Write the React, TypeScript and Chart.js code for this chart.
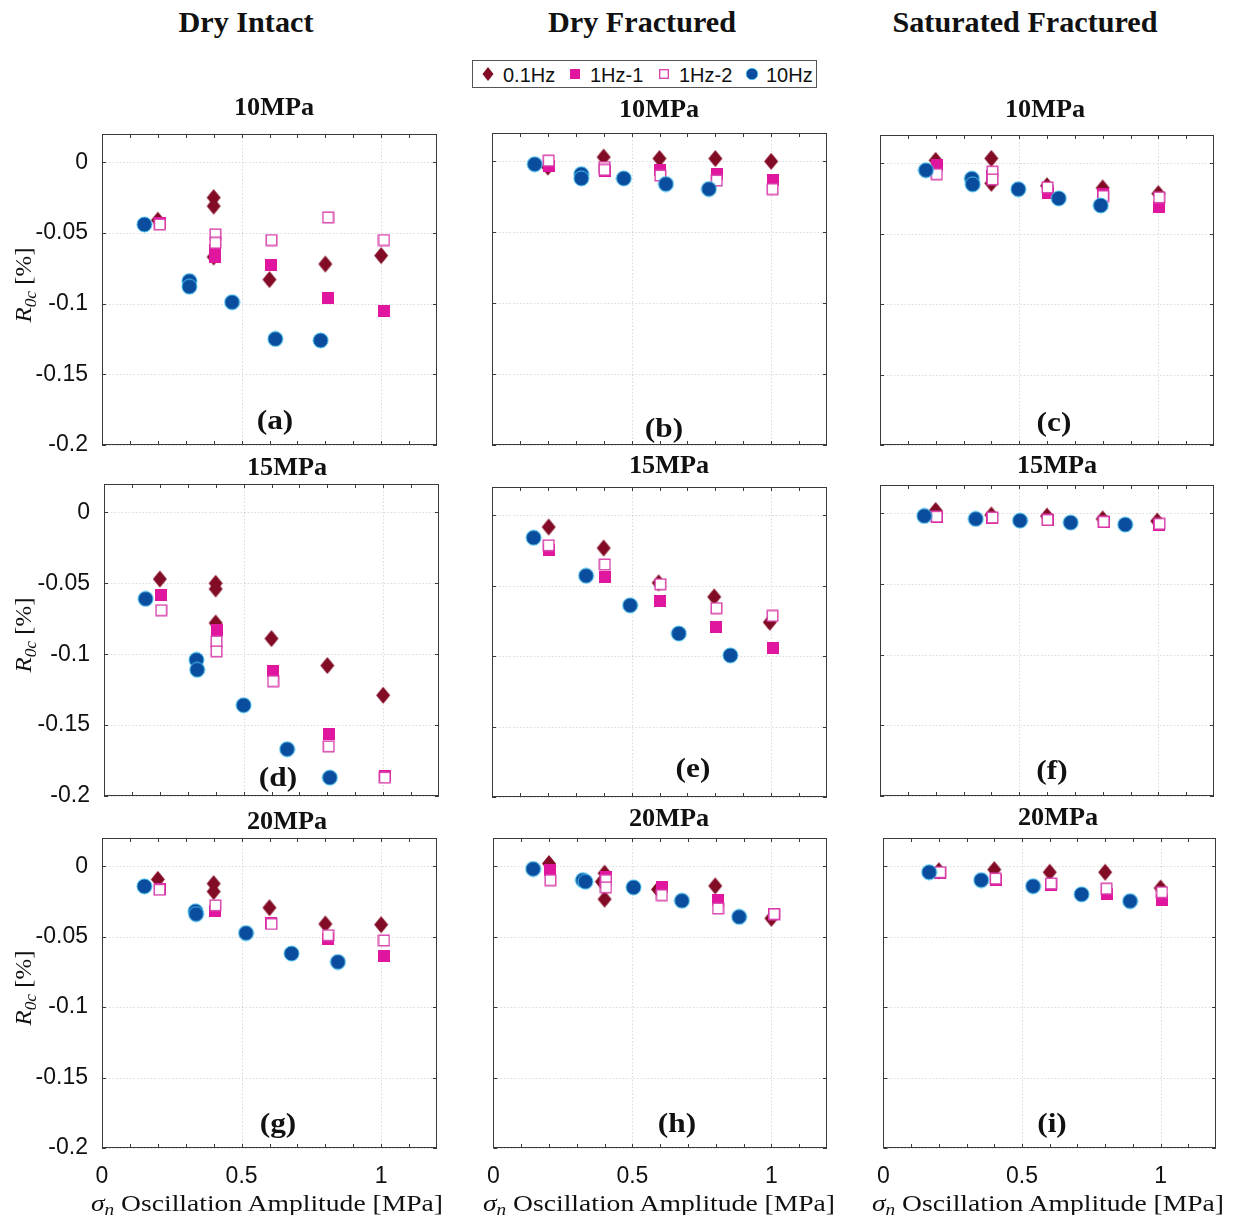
import React, { useEffect, useRef } from 'react';
import { Chart, registerables } from 'chart.js';

Chart.register(...registerables);

type Pt = [number, number];

// ---------- labels ----------
const COLUMN_TITLES = ['Dry Intact', 'Dry Fractured', 'Saturated Fractured'];
const ROW_TITLES = ['10MPa', '15MPa', '20MPa'];
const PANEL_LETTERS = ['(a)', '(b)', '(c)', '(d)', '(e)', '(f)', '(g)', '(h)', '(i)'];
const SERIES_NAMES = ['0.1Hz', '1Hz-1', '1Hz-2', '10Hz'];

// ---------- axes ----------
const X_MIN = 0;
const X_MAX = 1.2;
const Y_MIN = -0.2;
const Y_MAX = 0.02;
const X_TICKS = [0, 0.5, 1];
const X_TICK_LABELS = ['0', '0.5', '1'];
const X_MINOR_TICKS = [0.1, 0.2, 0.3, 0.4, 0.5, 0.6, 0.7, 0.8, 0.9, 1.0, 1.1];
const Y_TICKS = [0, -0.05, -0.1, -0.15, -0.2];
const Y_TICK_LABELS = ['0', '-0.05', '-0.1', '-0.15', '-0.2'];

// ---------- data: [sigma_n amplitude (MPa), R0c (%)] ----------
// (a) Dry Intact, 10 MPa
const a_01Hz: Pt[] = [[0.2, -0.041], [0.4, -0.025], [0.4, -0.031], [0.4, -0.067], [0.6, -0.083], [0.8, -0.072], [1.0, -0.066]];
const a_1Hz1: Pt[] = [[0.207, -0.043], [0.406, -0.062], [0.406, -0.067], [0.607, -0.073], [0.81, -0.096], [1.01, -0.105]];
const a_1Hz2: Pt[] = [[0.207, -0.044], [0.406, -0.051], [0.406, -0.057], [0.607, -0.055], [0.81, -0.039], [1.01, -0.055]];
const a_10Hz: Pt[] = [[0.152, -0.044], [0.313, -0.084], [0.313, -0.088], [0.466, -0.099], [0.621, -0.125], [0.783, -0.126]];

// (b) Dry Fractured, 10 MPa
const b_01Hz: Pt[] = [[0.2, -0.004], [0.4, 0.003], [0.6, 0.002], [0.8, 0.002], [1.0, 0.0]];
const b_1Hz1: Pt[] = [[0.203, -0.003], [0.403, -0.007], [0.603, -0.006], [0.805, -0.009], [1.005, -0.013]];
const b_1Hz2: Pt[] = [[0.203, 0.0005], [0.403, -0.004], [0.403, -0.006], [0.603, -0.01], [0.805, -0.0135], [1.005, -0.0195]];
const b_10Hz: Pt[] = [[0.153, -0.002], [0.32, -0.009], [0.32, -0.012], [0.472, -0.012], [0.623, -0.016], [0.777, -0.0195]];

// (c) Saturated Fractured, 10 MPa
const c_01Hz: Pt[] = [[0.2, 0.002], [0.4, 0.0034], [0.4, -0.0143], [0.6, -0.016], [0.8, -0.0176], [1.0, -0.0216]];
const c_1Hz1: Pt[] = [[0.204, -0.001], [0.404, -0.009], [0.602, -0.021], [0.802, -0.022], [1.003, -0.031]];
const c_1Hz2: Pt[] = [[0.204, -0.0078], [0.404, -0.006], [0.404, -0.0115], [0.602, -0.0172], [0.802, -0.0233], [1.003, -0.0243]];
const c_10Hz: Pt[] = [[0.165, -0.005], [0.33, -0.011], [0.333, -0.015], [0.497, -0.0185], [0.642, -0.025], [0.793, -0.03]];

// (d) Dry Intact, 15 MPa
const d_01Hz: Pt[] = [[0.2, -0.047], [0.4, -0.05], [0.4, -0.054], [0.4, -0.078], [0.6, -0.089], [0.8, -0.108], [1.0, -0.129]];
const d_1Hz1: Pt[] = [[0.205, -0.058], [0.403, -0.083], [0.606, -0.112], [0.805, -0.156], [1.006, -0.186]];
const d_1Hz2: Pt[] = [[0.205, -0.069], [0.403, -0.091], [0.403, -0.098], [0.606, -0.119], [0.805, -0.165], [1.006, -0.187]];
const d_10Hz: Pt[] = [[0.149, -0.061], [0.331, -0.104], [0.334, -0.111], [0.5, -0.136], [0.656, -0.167], [0.809, -0.187]];

// (e) Dry Fractured, 15 MPa
const e_01Hz: Pt[] = [[0.203, -0.0084], [0.4, -0.0233], [0.597, -0.048], [0.796, -0.058], [0.995, -0.076]];
const e_1Hz1: Pt[] = [[0.203, -0.0245], [0.404, -0.044], [0.603, -0.061], [0.804, -0.079], [1.005, -0.094]];
const e_1Hz2: Pt[] = [[0.203, -0.0214], [0.404, -0.035], [0.603, -0.049], [0.804, -0.066], [1.005, -0.0715]];
const e_10Hz: Pt[] = [[0.149, -0.016], [0.337, -0.043], [0.495, -0.064], [0.669, -0.084], [0.854, -0.0995]];

// (f) Saturated Fractured, 15 MPa
const f_01Hz: Pt[] = [[0.2, 0.002], [0.4, -0.0012], [0.6, -0.002], [0.8, -0.004], [0.996, -0.0055]];
const f_1Hz1: Pt[] = [[0.204, -0.0028], [0.404, -0.0035], [0.602, -0.005], [0.804, -0.0065], [1.004, -0.008]];
const f_1Hz2: Pt[] = [[0.204, -0.0024], [0.404, -0.003], [0.602, -0.0047], [0.804, -0.006], [1.004, -0.0075]];
const f_10Hz: Pt[] = [[0.159, -0.0019], [0.344, -0.004], [0.503, -0.0052], [0.685, -0.0066], [0.881, -0.008]];

// (g) Dry Intact, 20 MPa
const g_01Hz: Pt[] = [[0.2, -0.0094], [0.4, -0.0124], [0.4, -0.018], [0.6, -0.0295], [0.8, -0.041], [1.0, -0.0415]];
const g_1Hz1: Pt[] = [[0.206, -0.016], [0.406, -0.0318], [0.607, -0.04], [0.81, -0.0515], [1.01, -0.064]];
const g_1Hz2: Pt[] = [[0.206, -0.0167], [0.406, -0.0278], [0.607, -0.041], [0.81, -0.049], [1.01, -0.0527]];
const g_10Hz: Pt[] = [[0.152, -0.0143], [0.335, -0.032], [0.337, -0.034], [0.516, -0.0475], [0.679, -0.062], [0.845, -0.068]];

// (h) Dry Fractured, 20 MPa
const h_01Hz: Pt[] = [[0.2, 0.0019], [0.4, -0.005], [0.39, -0.011], [0.4, -0.0234], [0.592, -0.0165], [0.798, -0.014], [1.0, -0.037]];
const h_1Hz1: Pt[] = [[0.205, -0.0028], [0.405, -0.008], [0.606, -0.0146], [0.808, -0.024], [1.01, -0.034]];
const h_1Hz2: Pt[] = [[0.205, -0.0099], [0.405, -0.0099], [0.405, -0.015], [0.606, -0.0205], [0.808, -0.03], [1.01, -0.034]];
const h_10Hz: Pt[] = [[0.143, -0.002], [0.322, -0.0099], [0.331, -0.011], [0.504, -0.015], [0.678, -0.0245], [0.884, -0.036]];

// (i) Saturated Fractured, 20 MPa
const i_01Hz: Pt[] = [[0.2, -0.0032], [0.4, -0.0024], [0.6, -0.0043], [0.8, -0.0043], [1.0, -0.0155]];
const i_1Hz1: Pt[] = [[0.205, -0.005], [0.405, -0.0095], [0.605, -0.0135], [0.805, -0.02], [1.005, -0.0237]];
const i_1Hz2: Pt[] = [[0.205, -0.0043], [0.405, -0.0088], [0.605, -0.0123], [0.805, -0.016], [1.005, -0.0185]];
const i_10Hz: Pt[] = [[0.165, -0.0043], [0.353, -0.0099], [0.54, -0.0142], [0.715, -0.02], [0.89, -0.0248]];

// series per panel, in SERIES_NAMES order, row by row
const PANEL_SERIES: Pt[][][] = [
  [a_01Hz, a_1Hz1, a_1Hz2, a_10Hz],
  [b_01Hz, b_1Hz1, b_1Hz2, b_10Hz],
  [c_01Hz, c_1Hz1, c_1Hz2, c_10Hz],
  [d_01Hz, d_1Hz1, d_1Hz2, d_10Hz],
  [e_01Hz, e_1Hz1, e_1Hz2, e_10Hz],
  [f_01Hz, f_1Hz1, f_1Hz2, f_10Hz],
  [g_01Hz, g_1Hz1, g_1Hz2, g_10Hz],
  [h_01Hz, h_1Hz1, h_1Hz2, h_10Hz],
  [i_01Hz, i_1Hz1, i_1Hz2, i_10Hz],
];

// ---------- layout (page pixels) ----------
const PLOT_BOXES = [
  { left: 102, top: 134, width: 335, height: 311 },
  { left: 492, top: 133, width: 335, height: 312 },
  { left: 880, top: 135, width: 334, height: 310 },
  { left: 104, top: 484, width: 335, height: 312 },
  { left: 492, top: 487, width: 335, height: 310 },
  { left: 880, top: 485, width: 334, height: 311 },
  { left: 102, top: 838, width: 335, height: 310 },
  { left: 492, top: 838, width: 335, height: 310 },
  { left: 882, top: 838, width: 334, height: 310 },
];
const COLUMN_TITLE_X = [246, 642, 1025];
const ROW_TITLE_POS = [
  [[274, 115], [659, 117], [1045, 117]],
  [[287, 475], [669, 473], [1057, 473]],
  [[287, 829], [669, 826], [1058, 825]],
];
const LETTER_POS = [
  [275, 430], [664, 438], [1054, 432],
  [278, 787], [693, 778], [1052, 780],
  [278, 1133], [677, 1133], [1052, 1133],
];
const X_TITLE_X = [267, 659, 1048];
const Y_TITLE_Y = [285, 635, 988];

// ---------- styles ----------
const DIAMOND_COLOR = '#820B25';
const SQUARE_COLOR = '#E0169E';
const OPEN_SQUARE_COLOR = '#D83EAA';
const CIRCLE_COLOR = '#0A4D9E';
const CIRCLE_EDGE = '#4CC6F0';
const AXIS_COLOR = '#3a3a3a';
const TEXT_COLOR = '#111';
const SERIF = '"Liberation Serif", "Times New Roman", serif';
const SANS = '"Liberation Sans", Arial, sans-serif';

function sprite(w: number, h: number, draw: (g: CanvasRenderingContext2D) => void) {
  const c = document.createElement('canvas');
  c.width = w;
  c.height = h;
  draw(c.getContext('2d') as CanvasRenderingContext2D);
  return c;
}

let markerCache: HTMLCanvasElement[] | null = null;
function markers() {
  if (markerCache) return markerCache;
  const diamond = sprite(16, 19, (g) => {
    g.beginPath();
    g.moveTo(8, 1);
    g.lineTo(15, 9.5);
    g.lineTo(8, 18);
    g.lineTo(1, 9.5);
    g.closePath();
    g.fillStyle = DIAMOND_COLOR;
    g.fill();
  });
  const square = sprite(12, 12, (g) => {
    g.fillStyle = SQUARE_COLOR;
    g.fillRect(0, 0, 12, 12);
  });
  const openSquare = sprite(13, 13, (g) => {
    g.fillStyle = '#fff';
    g.fillRect(1, 1, 11, 11);
    g.strokeStyle = OPEN_SQUARE_COLOR;
    g.lineWidth = 1.4;
    g.strokeRect(1.2, 1.2, 10.6, 10.6);
  });
  const circle = sprite(17, 17, (g) => {
    g.beginPath();
    g.arc(8.5, 8.5, 7.5, 0, Math.PI * 2);
    g.fillStyle = CIRCLE_COLOR;
    g.fill();
    g.lineWidth = 1;
    g.strokeStyle = CIRCLE_EDGE;
    g.stroke();
  });
  markerCache = [diamond, square, openSquare, circle];
  return markerCache;
}

// MATLAB-style frame: dotted grid, boxed axes, inward ticks on all sides
const axesFrame = {
  id: 'axesFrame',
  beforeDatasetsDraw(chart: any) {
    const { ctx, chartArea } = chart;
    const { left, right, top, bottom } = chartArea;
    const xs = chart.scales.x;
    const ys = chart.scales.y;
    const line = (x1: number, y1: number, x2: number, y2: number) => {
      ctx.beginPath();
      ctx.moveTo(x1, y1);
      ctx.lineTo(x2, y2);
      ctx.stroke();
    };
    ctx.save();
    ctx.lineWidth = 1;
    ctx.strokeStyle = 'rgba(0,0,0,0.14)';
    ctx.setLineDash([1.5, 2]);
    X_TICKS.forEach((v) => {
      const px = Math.round(xs.getPixelForValue(v)) + 0.5;
      line(px, top, px, bottom);
    });
    Y_TICKS.forEach((v) => {
      const py = Math.round(ys.getPixelForValue(v)) + 0.5;
      line(left, py, right, py);
    });
    ctx.setLineDash([]);
    ctx.strokeStyle = AXIS_COLOR;
    X_MINOR_TICKS.forEach((v) => {
      const px = Math.round(xs.getPixelForValue(v)) + 0.5;
      line(px, bottom, px, bottom - 4);
      line(px, top, px, top + 4);
    });
    Y_TICKS.forEach((v) => {
      const py = Math.round(ys.getPixelForValue(v)) + 0.5;
      line(left, py, left + 4, py);
      line(right, py, right - 4, py);
    });
    ctx.strokeRect(Math.round(left) + 0.5, Math.round(top) + 0.5, Math.round(right - left) - 1, Math.round(bottom - top) - 1);
    ctx.restore();
  },
};

type PanelProps = { index: number };

function Panel({ index }: PanelProps) {
  const ref = useRef<HTMLCanvasElement>(null);
  const box = PLOT_BOXES[index];
  const col = index % 3;
  const row = Math.floor(index / 3);
  const showY = col === 0;
  const showX = row === 2;
  const padL = showY ? 100 : 12;
  const padR = 16;
  const padT = 30;
  const padB = showX ? 56 : 30;
  const cw = box.width + padL + padR;
  const ch = box.height + padT + padB;

  useEffect(() => {
    const [diamond, square, openSquare, circle] = markers();
    const styles = [diamond, square, openSquare, circle];
    const drawOrder = [3, 2, 1, 0];
    const series = PANEL_SERIES[index];
    const chart = new Chart(ref.current as HTMLCanvasElement, {
      type: 'scatter',
      data: {
        datasets: series.map((pts, s) => ({
          label: SERIES_NAMES[s],
          data: pts.map(([x, y]) => ({ x, y })),
          pointStyle: styles[s] as any,
          pointRadius: 7,
          pointHoverRadius: 7,
          showLine: false,
          order: drawOrder[s],
        })),
      },
      options: {
        responsive: false,
        animation: false,
        events: [],
        layout: { padding: { top: padT, right: padR, left: 0, bottom: 0 } },
        plugins: { legend: { display: false }, tooltip: { enabled: false }, title: { display: false } },
        scales: {
          x: {
            type: 'linear',
            min: X_MIN,
            max: X_MAX,
            grid: { display: false },
            border: { display: false },
            afterBuildTicks: (axis: any) => {
              axis.ticks = X_TICKS.map((value) => ({ value }));
            },
            afterFit: (axis: any) => {
              axis.height = padB;
            },
            ticks: {
              display: showX,
              padding: 7,
              color: TEXT_COLOR,
              font: { family: SANS, size: 23 },
              maxRotation: 0,
              callback: (_v: any, i: number) => X_TICK_LABELS[i],
            },
          },
          y: {
            type: 'linear',
            min: Y_MIN,
            max: Y_MAX,
            grid: { display: false },
            border: { display: false },
            afterBuildTicks: (axis: any) => {
              axis.ticks = Y_TICKS.map((value) => ({ value }));
            },
            afterFit: (axis: any) => {
              axis.width = padL;
            },
            ticks: {
              display: showY,
              padding: 6,
              color: TEXT_COLOR,
              font: { family: SANS, size: 23 },
              callback: (_v: any, i: number) => Y_TICK_LABELS[i],
            },
          },
        },
      },
      plugins: [axesFrame],
    } as any);
    return () => chart.destroy();
  }, [index]);

  return (
    <canvas
      ref={ref}
      width={cw}
      height={ch}
      style={{ position: 'absolute', left: box.left - padL, top: box.top - padT, width: cw, height: ch }}
    />
  );
}

type TextProps = {
  x: number;
  y: number;
  size: number;
  family: string;
  bold?: boolean;
  stretch?: number;
  children: React.ReactNode;
};

// text centred on x with its baseline on y
function Text({ x, y, size, family, bold, stretch = 1, children }: TextProps) {
  return (
    <div
      style={{
        position: 'absolute',
        left: x,
        top: y - 0.84 * size,
        fontFamily: family,
        fontSize: size,
        lineHeight: `${size}px`,
        fontWeight: bold ? 700 : 400,
        color: TEXT_COLOR,
        whiteSpace: 'nowrap',
        transform: `translateX(-50%) scaleX(${stretch})`,
        transformOrigin: 'center',
        zIndex: 2,
      }}
    >
      {children}
    </div>
  );
}

const subStyle: React.CSSProperties = { fontSize: '0.7em', verticalAlign: 'baseline', position: 'relative', top: '0.28em' };

function YTitle({ cy }: { cy: number }) {
  return (
    <div
      style={{
        position: 'absolute',
        left: 24,
        top: cy,
        fontFamily: SERIF,
        fontSize: 23,
        lineHeight: '23px',
        color: TEXT_COLOR,
        whiteSpace: 'nowrap',
        transform: 'translate(-50%, -50%) rotate(-90deg) scaleX(1.08)',
        transformOrigin: 'center',
        zIndex: 2,
      }}
    >
      <i>R</i>
      <i style={subStyle}>0c</i>
      {' [%]'}
    </div>
  );
}

function XTitle({ cx }: { cx: number }) {
  return (
    <Text x={cx} y={1211} size={23} family={SERIF} stretch={1.2}>
      <i>σ</i>
      <i style={subStyle}>n</i>
      {' Oscillation Amplitude [MPa]'}
    </Text>
  );
}

function LegendMarker({ kind }: { kind: number }) {
  if (kind === 0)
    return (
      <svg width="12" height="15" viewBox="0 0 12 15">
        <path d="M6 0.5 L11.5 7.5 L6 14.5 L0.5 7.5 Z" fill={DIAMOND_COLOR} />
      </svg>
    );
  if (kind === 1)
    return (
      <svg width="10" height="10" viewBox="0 0 10 10">
        <rect x="0" y="0" width="10" height="10" fill={SQUARE_COLOR} />
      </svg>
    );
  if (kind === 2)
    return (
      <svg width="10" height="10" viewBox="0 0 10 10">
        <rect x="0.7" y="0.7" width="8.6" height="8.6" fill="#fff" stroke={OPEN_SQUARE_COLOR} strokeWidth="1.3" />
      </svg>
    );
  return (
    <svg width="13" height="13" viewBox="0 0 13 13">
      <circle cx="6.5" cy="6.5" r="5.8" fill={CIRCLE_COLOR} stroke={CIRCLE_EDGE} strokeWidth="0.8" />
    </svg>
  );
}

const LEGEND_MARKER_X = [15, 102, 191, 279];
const LEGEND_TEXT_X = [30, 117, 206, 293];

function Legend() {
  return (
    <div
      style={{
        position: 'absolute',
        left: 472,
        top: 60,
        width: 345,
        height: 28,
        boxSizing: 'border-box',
        border: '1px solid #555',
        background: '#fff',
        zIndex: 3,
      }}
    >
      {SERIES_NAMES.map((name, k) => (
        <React.Fragment key={name}>
          <div
            style={{
              position: 'absolute',
              left: LEGEND_MARKER_X[k],
              top: 13,
              transform: 'translate(-50%, -50%)',
              lineHeight: 0,
            }}
          >
            <LegendMarker kind={k} />
          </div>
          <div
            style={{
              position: 'absolute',
              left: LEGEND_TEXT_X[k],
              top: 21 - 0.85 * 20,
              fontFamily: SANS,
              fontSize: 20,
              lineHeight: '20px',
              color: TEXT_COLOR,
              whiteSpace: 'nowrap',
            }}
          >
            {name}
          </div>
        </React.Fragment>
      ))}
    </div>
  );
}

export default function App() {
  return (
    <div
      style={{
        position: 'absolute',
        left: 0,
        top: 0,
        width: 1242,
        height: 1215,
        overflow: 'hidden',
        background: '#fff',
      }}
    >
      {PLOT_BOXES.map((_, i) => (
        <Panel key={i} index={i} />
      ))}
      {COLUMN_TITLES.map((t, c) => (
        <Text key={t} x={COLUMN_TITLE_X[c]} y={32} size={29} family={SERIF} bold stretch={1.04}>
          {t}
        </Text>
      ))}
      {ROW_TITLE_POS.map((rowPos, r) =>
        rowPos.map(([x, y], c) => (
          <Text key={`${r}-${c}`} x={x} y={y} size={25} family={SERIF} bold stretch={1.05}>
            {ROW_TITLES[r]}
          </Text>
        ))
      )}
      {PANEL_LETTERS.map((l, i) => (
        <Text key={l} x={LETTER_POS[i][0]} y={LETTER_POS[i][1]} size={28} family={SERIF} bold stretch={1.12}>
          {l}
        </Text>
      ))}
      {Y_TITLE_Y.map((cy) => (
        <YTitle key={cy} cy={cy} />
      ))}
      {X_TITLE_X.map((cx) => (
        <XTitle key={cx} cx={cx} />
      ))}
      <Legend />
    </div>
  );
}
